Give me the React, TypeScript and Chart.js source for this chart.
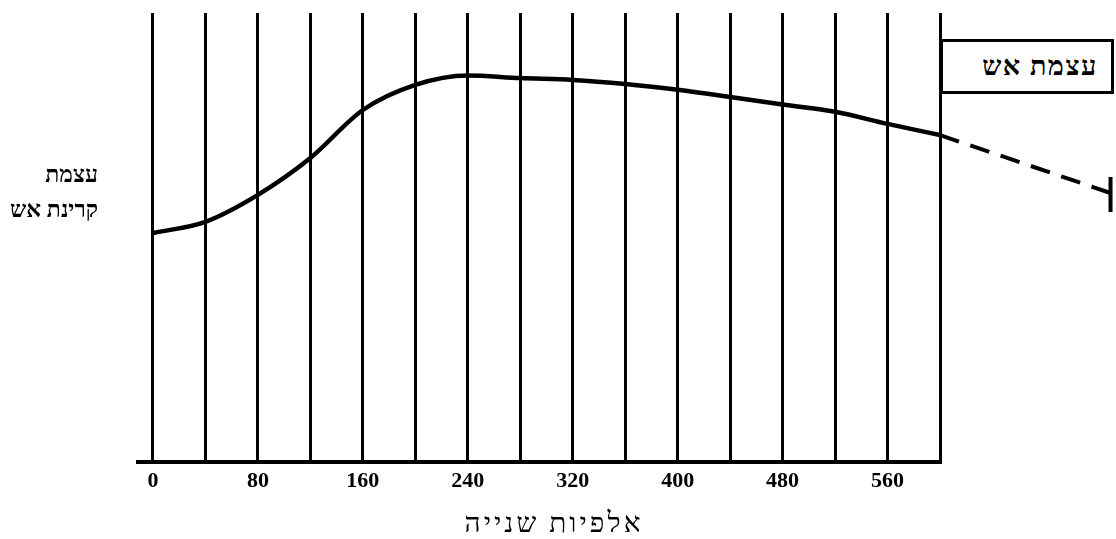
import React, { useEffect, useRef } from "react";
import { Chart, registerables } from "chart.js";

Chart.register(...registerables);

// Time in thousandths of a second (gridline positions)
const TIME_MS = [0, 40, 80, 120, 160, 200, 240, 280, 320, 360, 400, 440, 480, 520, 560, 600];
// Relative fire-radiation intensity (arbitrary units, 0..100)
const INTENSITY = [51.0, 53.5, 59.5, 67.7, 78.4, 84.0, 86.1, 85.5, 85.1, 84.2, 82.9, 81.3, 79.6, 78.0, 75.3, 72.8];
// Extrapolated (dashed) continuation
const EXTRAP_TIME = [600, 730];
const EXTRAP_INTENSITY = [72.8, 59.9];
// End marker of the extrapolation (vertical bar)
const END_MARK_TIME = [730, 730];
const END_MARK_INTENSITY = [63.5, 55.7];
// Labelled ticks
const TICK_LABELS = [0, 80, 160, 240, 320, 400, 480, 560];

const X_TITLE = "אלפיות שנייה";
const Y_TITLE_LINES = ["עצמת", "קרינת אש"];
const LEGEND_LABEL = "עצמת אש";

export default function App() {
  const canvasRef = useRef<HTMLCanvasElement | null>(null);

  useEffect(() => {
    const canvas = canvasRef.current;
    if (!canvas) return;
    const chart = new Chart(canvas, {
      type: "line",
      data: {
        datasets: [
          {
            label: LEGEND_LABEL,
            data: TIME_MS.map((t, i) => ({ x: t, y: INTENSITY[i] })),
            borderColor: "#000",
            borderWidth: 4.5,
            pointRadius: 0,
            cubicInterpolationMode: "monotone",
            fill: false,
          },
          {
            label: "extrapolation",
            data: EXTRAP_TIME.map((t, i) => ({ x: t, y: EXTRAP_INTENSITY[i] })),
            borderColor: "#000",
            borderWidth: 4,
            borderDash: [20, 12],
            pointRadius: 0,
            clip: false as any,
            fill: false,
          },
          {
            label: "end",
            data: END_MARK_TIME.map((t, i) => ({ x: t, y: END_MARK_INTENSITY[i] })),
            borderColor: "#000",
            borderWidth: 4,
            pointRadius: 0,
            clip: false as any,
            fill: false,
          },
        ],
      },
      options: {
        responsive: false,
        animation: false,
        devicePixelRatio: 1,
        layout: { padding: { left: 138, right: 176, top: 13, bottom: 38.6 } },
        plugins: {
          legend: { display: false },
          tooltip: { enabled: false },
        },
        scales: {
          x: {
            type: "linear",
            min: -11.4,
            max: 600,
            afterBuildTicks: (scale: any) => {
              scale.ticks = TIME_MS.map((v) => ({ value: v }));
            },
            grid: {
              color: "#000",
              lineWidth: 3,
              drawTicks: false,
            },
            border: { display: true, color: "#000", width: 4 },
            ticks: {
              autoSkip: false,
              maxRotation: 0,
              padding: 6,
              color: "#000",
              font: { family: "'Liberation Serif', serif", size: 22, weight: "bold" },
              callback: (v: any) => (TICK_LABELS.includes(Number(v)) ? String(v) : ""),
            },
          },
          y: {
            display: false,
            min: 0,
            max: 100,
          },
        },
      },
    });
    return () => chart.destroy();
  }, []);

  return (
    <div
      style={{
        position: "fixed",
        left: 0,
        top: 0,
        width: 1116,
        height: 539,
        background: "#fff",
      }}
    >
      <canvas ref={canvasRef} width={1116} height={539} style={{ position: "absolute", left: 0, top: 0 }} />
      <div
        dir="rtl"
        style={{
          position: "absolute",
          right: 1116 - 98,
          top: 157,
          textAlign: "right",
          fontFamily: "'Liberation Serif', serif",
          fontSize: 23,
          fontWeight: "bold",
          lineHeight: "35px",
          color: "#000",
          whiteSpace: "nowrap",
        }}
      >
        {Y_TITLE_LINES.map((l) => (
          <div key={l}>{l}</div>
        ))}
      </div>
      <div
        dir="rtl"
        style={{
          position: "absolute",
          left: 554 - 150,
          width: 300,
          top: 507,
          textAlign: "center",
          fontFamily: "'Liberation Serif', serif",
          fontSize: 28,
          letterSpacing: "3px",
          lineHeight: "32px",
          color: "#000",
          whiteSpace: "nowrap",
        }}
      >
        {X_TITLE}
      </div>
      <div
        dir="rtl"
        style={{
          position: "absolute",
          left: 940,
          top: 39,
          width: 174,
          height: 55,
          boxSizing: "border-box",
          border: "3px solid #000",
          display: "flex",
          alignItems: "center",
          justifyContent: "center",
          paddingLeft: 26,
          fontFamily: "'Liberation Serif', serif",
          fontSize: 27,
          fontWeight: "bold",
          letterSpacing: "1.5px",
          color: "#000",
          background: "#fff",
          whiteSpace: "nowrap",
        }}
      >
        {LEGEND_LABEL}
      </div>
    </div>
  );
}
